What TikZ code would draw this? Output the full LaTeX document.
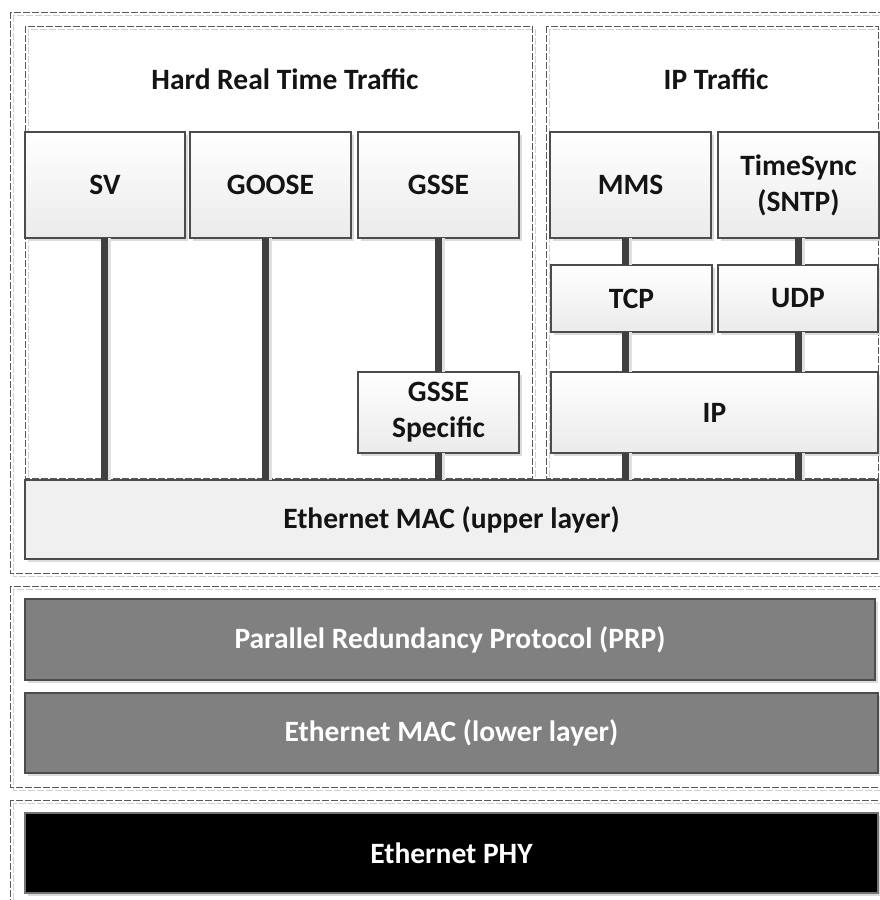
\documentclass[tikz,border=0pt]{standalone}
\usepackage{fontspec}
\setmainfont{Carlito}
\usetikzlibrary{shadows}
\begin{document}
\begin{tikzpicture}[x=1pt,y=-1pt,
  grp/.style={draw=black!65, line width=1pt, dash pattern=on 7pt off 2pt},
  grpsh/.style={draw=black!18, line width=1pt, dash pattern=on 7pt off 2pt},
  lbl/.style={font=\fontsize{29.5}{36}\selectfont\bfseries, text=black!92},
  box/.style={draw=black!70, line width=1.2pt, top color=white, bottom color=black!8,
    inner sep=0pt, outer sep=0pt, align=center, font=\fontsize{29.5}{36}\selectfont\bfseries, text=black!92,
    drop shadow={shadow xshift=3pt, shadow yshift=-3pt, fill=black!14, opacity=1}},
  flatbox/.style={box, top color=black!6, bottom color=black!6},
  darkbox/.style={box, fill=black!50, top color=black!50, bottom color=black!50, text=white},
  blackbox/.style={box, fill=black, top color=black, bottom color=black, draw=black!55, text=white},
  conn/.style={draw=black!75, line width=7pt},
  connsh/.style={draw=black!12, line width=6pt, transform canvas={xshift=4pt}}
]
\useasboundingbox (0,0) rectangle (880,900);
\clip (0,0) rectangle (880,900);
\fill[white] (0,0) rectangle (880,900);

% group frames (shadow first)
\draw[grpsh] (13,15) rectangle (893,576);
\draw[grp] (10,12) rectangle (890,573);
\draw[grpsh] (28,29) rectangle (535,481);
\draw[grp] (25,26) rectangle (532,478);
\draw[grpsh] (549,29) rectangle (881,481);
\draw[grp] (546,26) rectangle (878.5,478);
\draw[grpsh] (13,589) rectangle (893,790);
\draw[grp] (10,586) rectangle (890,787);
\draw[grpsh] (13,803) rectangle (893,915);
\draw[grp] (10,800) rectangle (890,912);

% titles
\node[lbl] (hrt) at (285,79) {Hard Real Time Traffic};
\node[lbl] (ipt) at (716,79) {IP Traffic};

% boxes
\node[box, minimum width=160pt, minimum height=106pt] (sv) at (105,185) {SV};
\node[box, minimum width=161pt, minimum height=106pt] (goose) at (270.5,185) {GOOSE};
\node[box, minimum width=161pt, minimum height=106pt] (gsse) at (438.5,185) {GSSE};
\node[box, minimum width=161pt, minimum height=106pt] (mms) at (630.5,185) {MMS};
\node[box, minimum width=161pt, minimum height=106pt] (tsync) at (798.5,185) {TimeSync\\(SNTP)};
\node[box, minimum width=161pt, minimum height=67pt] (tcp) at (631.5,298.5) {TCP};
\node[box, minimum width=160pt, minimum height=67pt] (udp) at (798,298.5) {UDP};
\node[box, minimum width=161pt, minimum height=81pt] (gssesp) at (438.5,412.5) {GSSE\\Specific};
\node[box, minimum width=327pt, minimum height=81pt] (ip) at (714.5,412.5) {IP};
\node[flatbox, minimum width=853pt, minimum height=79pt] (macup) at (451.5,519.5) {Ethernet MAC (upper layer)};
\node[darkbox, minimum width=850pt, minimum height=81pt] (prp) at (450,639.5) {Parallel Redundancy Protocol (PRP)};
\node[darkbox, minimum width=853pt, minimum height=80pt] (maclow) at (451.5,733) {Ethernet MAC (lower layer)};
\node[blackbox, minimum width=853pt, minimum height=80pt] (phy) at (451.5,853) {Ethernet PHY};

% connector shadows
\draw[connsh] ([xshift=-1pt]sv.south) -- ([xshift=-1pt]sv.south |- macup.north);
\draw[connsh] ([xshift=-5.5pt]goose.south) -- ([xshift=-5.5pt]goose.south |- macup.north);
\draw[connsh] ([xshift=-0.5pt]gsse.south) -- ([xshift=-0.5pt]gssesp.north);
\draw[connsh] ([xshift=-0.5pt]gssesp.south) -- ([xshift=-0.5pt]gssesp.south |- macup.north);
\draw[connsh] ([xshift=-5.5pt]mms.south) -- ([xshift=-6.5pt]tcp.north);
\draw[connsh] ([xshift=-6.5pt]tcp.south) -- ([xshift=-6.5pt]tcp.south |- ip.north);
\draw[connsh] ([xshift=-0.5pt]tsync.south) -- (udp.north);
\draw[connsh] (udp.south) -- (udp.south |- ip.north);
\draw[connsh] ([xshift=-6.5pt]tcp.south |- ip.south) -- ([xshift=-6.5pt]tcp.south |- macup.north);
\draw[connsh] (udp.south |- ip.south) -- (udp.south |- macup.north);

% connectors
\draw[conn] ([xshift=-1pt]sv.south) -- ([xshift=-1pt]sv.south |- macup.north);
\draw[conn] ([xshift=-5.5pt]goose.south) -- ([xshift=-5.5pt]goose.south |- macup.north);
\draw[conn] ([xshift=-0.5pt]gsse.south) -- ([xshift=-0.5pt]gssesp.north);
\draw[conn] ([xshift=-0.5pt]gssesp.south) -- ([xshift=-0.5pt]gssesp.south |- macup.north);
\draw[conn] ([xshift=-5.5pt]mms.south) -- ([xshift=-6.5pt]tcp.north);
\draw[conn] ([xshift=-6.5pt]tcp.south) -- ([xshift=-6.5pt]tcp.south |- ip.north);
\draw[conn] ([xshift=-0.5pt]tsync.south) -- (udp.north);
\draw[conn] (udp.south) -- (udp.south |- ip.north);
\draw[conn] ([xshift=-6.5pt]tcp.south |- ip.south) -- ([xshift=-6.5pt]tcp.south |- macup.north);
\draw[conn] (udp.south |- ip.south) -- (udp.south |- macup.north);
\end{tikzpicture}
\end{document}
